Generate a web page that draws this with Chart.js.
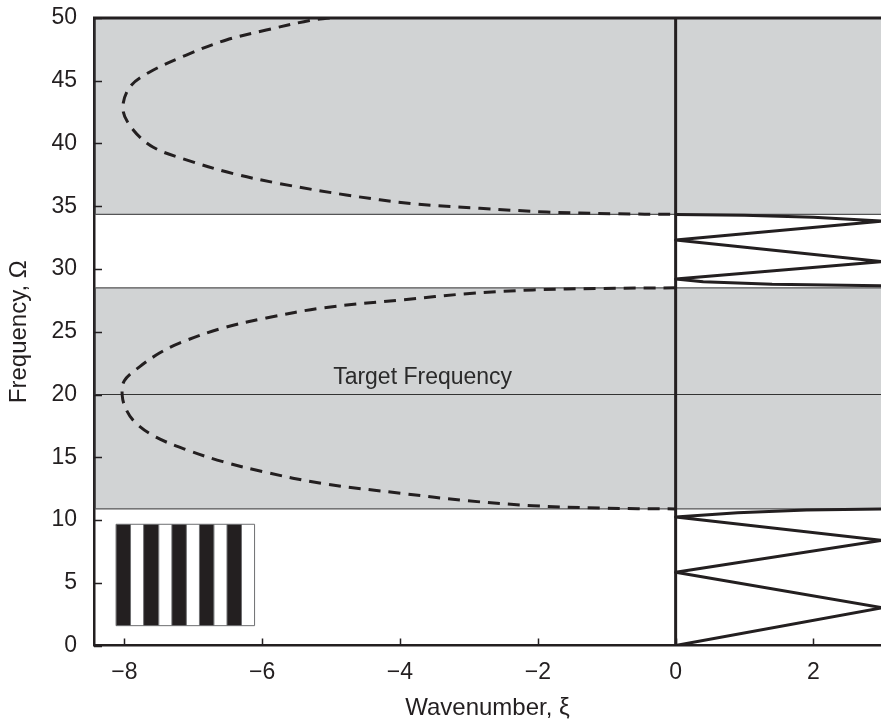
<!DOCTYPE html>
<html>
<head>
<meta charset="utf-8">
<script src="https://cdn.jsdelivr.net/npm/chart.js@4/dist/chart.umd.min.js"></script>
<style>
  html, body { margin: 0; padding: 0; background: #fff; overflow: hidden; }
  #wrap { width: 881px; height: 724px; position: relative; }
</style>
</head>
<body>
<div id="wrap"><canvas id="c" width="881" height="724"></canvas></div>
<script>
// Axis ranges and tick positions
const xRange = [-8.44, 2.98];
const yRange = [0, 50];
const xTicks = [-8, -6, -4, -2, 0, 2];
const yTicks = [0, 5, 10, 15, 20, 25, 30, 35, 40, 45, 50];

// Stop bands: [lower Ω, upper Ω]
const bandLeft = -8.42;
const bandRight = 3.5;
const stopBandUpper = [34.35, 50];
const stopBandLower = [10.88, 28.5];

// Complex branch inside the upper stop band (dashed)
const upperBranchXi    = [-5.02, -5.31, -5.94, -6.52, -7.10, -7.63, -7.92, -8.02, -7.87, -7.58, -7.10, -6.42, -5.74, -4.78, -3.81, -2.84, -1.87, -0.90, 0];
const upperBranchOmega = [50.0, 49.8, 49.04, 48.25, 47.05, 45.7, 44.5, 42.7, 41.08, 39.7, 38.7, 37.6, 36.8, 35.9, 35.2, 34.84, 34.54, 34.4, 34.35];

// Complex branch inside the lower stop band (dashed)
const lowerBranchXi    = [0, -1.10, -2.07, -3.03, -3.95, -5.12, -5.94, -6.57, -7.20, -7.49, -7.78, -8.00, -8.03, -7.97, -7.83, -7.54, -7.10, -6.57, -5.99, -5.12, -3.97, -3.03, -2.07, -1.10, 0];
const lowerBranchOmega = [28.5, 28.45, 28.33, 28.03, 27.55, 26.9, 26.1, 25.3, 24.1, 23.3, 22.2, 21.1, 19.9, 18.76, 17.7, 16.6, 15.6, 14.65, 13.85, 12.9, 12.12, 11.54, 11.14, 10.95, 10.88];

// Real branches in the pass bands (solid zigzag)
const passLowXi     = [0, 3.0, 0, 3.0, 0, 0.9, 1.9, 3.0];
const passLowOmega  = [0, 3.01, 5.83, 8.38, 10.24, 10.58, 10.8, 10.88];
const passHighXi    = [3.0, 1.4, 0.4, 0, 3.0, 0, 3.0, 2.0, 1.0, 0];
const passHighOmega = [28.67, 28.78, 28.99, 29.2, 30.58, 32.31, 33.82, 34.12, 34.28, 34.35];

// Target frequency marker
const targetOmega = 20;
const targetLabel = 'Target Frequency';
const targetLabelXi = -4.97;
const targetLabelOmega = 20.84;

// Striped inset (layered medium sketch)
const stripeEdges = [-8.12, -7.91, -7.72, -7.50, -7.31, -7.10, -6.91, -6.70, -6.51, -6.30, -6.11];
const stripeBottom = 1.58;
const stripeTop = 9.66;

const ink = '#231f20';
const bandGray = '#d1d3d4';
const edgeGray = '#555556';
const fontFamily = '"Liberation Sans", Arial, Helvetica, sans-serif';

const pts = (xs, ys) => xs.map((v, i) => ({ x: v, y: ys[i] }));
const gap = () => ({ x: null, y: null });

// Band outline (left and inner edges)
const bandEdges = [
  { x: bandRight, y: stopBandUpper[0] }, { x: bandLeft, y: stopBandUpper[0] }, { x: bandLeft, y: stopBandUpper[1] },
  gap(),
  { x: bandRight, y: stopBandLower[1] }, { x: bandLeft, y: stopBandLower[1] },
  { x: bandLeft, y: stopBandLower[0] }, { x: bandRight, y: stopBandLower[0] }
];

// Black stripes (every other cell) and their outlines
const stripeFills = [];
for (let i = 0; i + 1 < stripeEdges.length; i += 2) {
  stripeFills.push({
    data: [{ x: stripeEdges[i], y: stripeTop }, { x: stripeEdges[i + 1], y: stripeTop }],
    showLine: true, fill: { value: stripeBottom },
    backgroundColor: ink, borderColor: 'rgba(0,0,0,0)', borderWidth: 1,
    pointRadius: 0, order: 7
  });
}
const stripeOutline = [
  { x: stripeEdges[0], y: stripeTop }, { x: stripeEdges[stripeEdges.length - 1], y: stripeTop }, gap(),
  { x: stripeEdges[0], y: stripeBottom }, { x: stripeEdges[stripeEdges.length - 1], y: stripeBottom }, gap()
];
stripeEdges.forEach(e => { stripeOutline.push({ x: e, y: stripeBottom }, { x: e, y: stripeTop }, gap()); });

const datasets = [
  { data: [{ x: bandLeft, y: stopBandUpper[1] }, { x: bandRight, y: stopBandUpper[1] }],
    showLine: true, fill: { value: stopBandUpper[0] }, backgroundColor: bandGray,
    borderColor: 'rgba(0,0,0,0)', borderWidth: 1, pointRadius: 0, order: 10 },
  { data: [{ x: bandLeft, y: stopBandLower[1] }, { x: bandRight, y: stopBandLower[1] }],
    showLine: true, fill: { value: stopBandLower[0] }, backgroundColor: bandGray,
    borderColor: 'rgba(0,0,0,0)', borderWidth: 1, pointRadius: 0, order: 10 },
  { data: bandEdges, showLine: true, spanGaps: false, borderColor: edgeGray, borderWidth: 1.2,
    pointRadius: 0, fill: false, order: 9 },
  { data: [{ x: xRange[0], y: targetOmega }, { x: bandRight, y: targetOmega }], showLine: true,
    borderColor: '#333', borderWidth: 1.2, pointRadius: 0, fill: false, order: 8 },
  ...stripeFills,
  { data: stripeOutline, showLine: true, spanGaps: false, borderColor: '#6d6e70', borderWidth: 1,
    pointRadius: 0, fill: false, order: 6 },
  { data: pts(upperBranchXi, upperBranchOmega), showLine: true, borderColor: ink, borderWidth: 3,
    borderDash: [12, 8], tension: 0.35, pointRadius: 0, fill: false, order: 5 },
  { data: pts(lowerBranchXi, lowerBranchOmega), showLine: true, borderColor: ink, borderWidth: 3,
    borderDash: [12, 8], tension: 0.35, pointRadius: 0, fill: false, order: 5 },
  { data: pts(passLowXi, passLowOmega), showLine: true, borderColor: ink, borderWidth: 3,
    borderJoinStyle: 'round', tension: 0, pointRadius: 0, fill: false, order: 4 },
  { data: pts(passHighXi, passHighOmega), showLine: true, borderColor: ink, borderWidth: 3,
    borderJoinStyle: 'round', tension: 0, pointRadius: 0, fill: false, order: 4 },
  { data: [{ x: 0, y: yRange[0] }, { x: 0, y: yRange[1] }], showLine: true, borderColor: ink,
    borderWidth: 3, pointRadius: 0, fill: false, order: 3 }
];

// Inward tick marks, top frame line and the target-frequency caption
const framePlugin = {
  id: 'frame',
  afterDatasetsDraw(chart) {
    const { ctx, chartArea: a, scales: { x, y } } = chart;
    ctx.save();
    ctx.strokeStyle = ink;
    ctx.lineWidth = 1.5;
    ctx.beginPath();
    x.ticks.forEach(t => {
      const px = Math.round(x.getPixelForValue(t.value)) + 0.5;
      ctx.moveTo(px, a.bottom); ctx.lineTo(px, a.bottom - 7);
    });
    y.ticks.forEach(t => {
      const py = Math.round(y.getPixelForValue(t.value)) + 0.5;
      ctx.moveTo(a.left, py); ctx.lineTo(a.left + 8, py);
    });
    ctx.stroke();
    ctx.lineWidth = 3.2;
    ctx.beginPath();
    ctx.moveTo(a.left - 1, a.top); ctx.lineTo(a.right + 2, a.top);
    ctx.stroke();
    ctx.fillStyle = '#2a2a2a';
    ctx.font = '23px ' + fontFamily;
    ctx.textAlign = 'left';
    ctx.textBaseline = 'alphabetic';
    ctx.fillText(targetLabel, x.getPixelForValue(targetLabelXi), y.getPixelForValue(targetLabelOmega));
    ctx.restore();
  }
};

const minus = v => (v < 0 ? '\u2212' + Math.abs(v) : String(v));

new Chart(document.getElementById('c'), {
  type: 'scatter',
  data: { datasets },
  plugins: [framePlugin],
  options: {
    responsive: false,
    animation: false,
    events: [],
    layout: { padding: { top: 18, right: 0, bottom: 0, left: 0 } },
    plugins: { legend: { display: false }, tooltip: { enabled: false } },
    scales: {
      x: {
        type: 'linear', position: 'bottom', min: xRange[0], max: xRange[1],
        afterBuildTicks: s => { s.ticks = xTicks.map(v => ({ value: v })); },
        afterFit: s => { s.height = 78.5; s.paddingLeft = 0; s.paddingRight = 0; },
        grid: { display: false, drawTicks: false },
        border: { display: true, color: ink, width: 2.5 },
        ticks: { color: ink, padding: 13, font: { family: fontFamily, size: 23 }, callback: minus, maxRotation: 0 },
        title: { display: true, text: 'Wavenumber, \u03be', color: ink,
                 font: { family: fontFamily, size: 24 }, padding: { top: 0, bottom: 1 } }
      },
      y: {
        type: 'linear', position: 'left', min: yRange[0], max: yRange[1],
        afterBuildTicks: s => { s.ticks = yTicks.map(v => ({ value: v })); },
        afterFit: s => { s.width = 94; s.paddingTop = 0; s.paddingBottom = 0; },
        grid: { display: false, drawTicks: false },
        border: { display: true, color: ink, width: 2.5 },
        ticks: { color: ink, padding: 17, font: { family: fontFamily, size: 23 }, callback: minus },
        title: { display: true, text: 'Frequency, \u03a9', color: ink,
                 font: { family: fontFamily, size: 24 }, padding: { top: 5, bottom: 0 } }
      }
    }
  }
});
</script>
</body>
</html>
